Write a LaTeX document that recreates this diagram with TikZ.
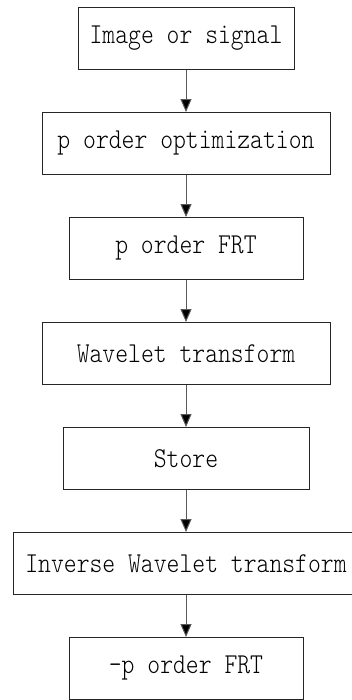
\documentclass[tikz,border=0pt]{standalone}
\usepackage{fontspec}
\usetikzlibrary{arrows.meta}
\newfontfamily\boxfont{lmmonolt10-regular.otf}[FakeStretch=0.85]
\begin{document}
\begin{tikzpicture}[x=1pt, y=-1pt,
    stepbox/.style={draw=black!85, line width=0.9pt, minimum height=62pt, inner sep=0pt,
        font=\fontsize{28.8}{32}\selectfont\boxfont},
    flow/.style={draw=black!65, line width=1pt, -{Triangle[width=11pt,length=13pt,fill=black]}}]
            \def\boxx{186}
            \def\gap{105}
            \clip (0,0) rectangle (352,700);
            \fill[white] (0,0) rectangle (352,700);
            \node[stepbox, minimum width=216pt] (S1) at (\boxx, 38.5) {Image or signal};
            \node[stepbox, minimum width=288pt] (S2) at (\boxx, {38.5+\gap}) {p order optimization};
            \node[stepbox, minimum width=234pt] (S3) at (\boxx, {38.5+2*\gap}) {p order FRT};
            \node[stepbox, minimum width=288pt] (S4) at (\boxx, {38.5+3*\gap}) {Wavelet transform};
            \node[stepbox, minimum width=246pt] (S5) at (\boxx, {38.5+4*\gap}) {Store};
            \node[stepbox, minimum width=346pt] (S6) at (\boxx, {38.5+5*\gap}) {Inverse Wavelet transform};
            \node[stepbox, minimum width=234pt] (S7) at (\boxx, {38.5+6*\gap}) {-p order FRT};
            \draw[flow] (S1) -- (S2);
            \draw[flow] (S2) -- (S3);
            \draw[flow] (S3) -- (S4);
            \draw[flow] (S4) -- (S5);
            \draw[flow] (S5) -- (S6);
            \draw[flow] (S6) -- (S7);
        \end{tikzpicture}
\end{document}
